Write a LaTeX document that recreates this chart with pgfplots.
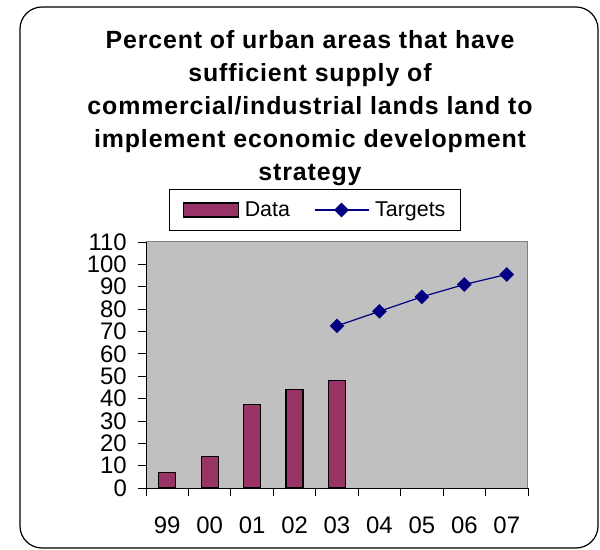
\documentclass[border=0pt]{standalone}
\usepackage{fontspec}
\setmainfont{Liberation Sans}
\usepackage{pgfplots}
\pgfplotsset{compat=1.18}
\definecolor{barcol}{HTML}{993366}
\definecolor{linecol}{HTML}{000080}
\definecolor{plotbg}{HTML}{C0C0C0}
\definecolor{plotframe}{HTML}{808080}
\pgfplotsset{
  barlegend/.style={legend image code/.code={\draw[##1] (0bp,-7bp) rectangle (55bp,7bp);}},
  linelegend/.style={legend image code/.code={\draw[mark repeat=2,mark phase=2,##1] plot coordinates {(0bp,0bp)(27bp,0bp)(54bp,0bp)};}},
}
\begin{document}
\begin{tikzpicture}
\path[use as bounding box] (-146bp,-62bp) rectangle (454bp,488bp);
\draw[line width=1.2bp, rounded corners=22bp] (-126bp,-60bp) rectangle (452bp,481bp);
\begin{axis}[
  at={(0,0)}, anchor=south west,
  scale only axis, width=382bp, height=246bp,
  xmin=-0.5, xmax=8.5, ymin=0, ymax=110,
  axis x line=bottom, axis y line=left,
  axis line style={-, line width=1bp, black},
  axis background/.style={fill=plotbg, draw=plotframe, line width=1bp},
  ytick={0,10,...,110},
  xtick={0,...,8}, xticklabels={99,00,01,02,03,04,05,06,07},
  minor xtick={-0.5,0.5,...,8.5},
  tick align=outside, major tick length=8bp, minor tick length=8bp,
  major x tick style={draw=none},
  tick style={black, line width=0.8bp},
  ticklabel style={font=\fontsize{24}{28}\selectfont},
  xticklabel style={inner sep=0pt, anchor=north},
  xticklabel shift=21bp,
  yticklabel style={inner sep=0pt, anchor=east},
  yticklabel shift=11bp,
  /pgf/number format/assume math mode=true,
  legend columns=2,
  legend style={at={(0.4424,1.1301)}, anchor=center, draw=black, line width=0.8bp,
    fill=white, font=\fontsize{21.5}{26}\selectfont,
    inner xsep=13bp, inner ysep=10bp,
    /tikz/every odd column/.append style={column sep=4bp},
    /tikz/every even column/.append style={column sep=22bp}},
]
\addplot[ybar, bar width=17bp, fill=barcol, draw=black, line width=1.2bp, barlegend]
  coordinates {(0,7) (1,14) (2,37.5) (3,44) (4,48)};
\addlegendentry{Data}
\addplot[color=linecol, line width=1.2bp, mark=square*, mark size=4.6bp,
  mark options={rotate=45, fill=linecol}, linelegend]
  coordinates {(4,72.5) (5,79) (6,85.5) (7,91) (8,95.5)};
\addlegendentry{Targets}
\end{axis}
\begin{scope}[every node/.style={anchor=base, inner sep=0pt, font=\bfseries\fontsize{25}{30}\selectfont\addfontfeatures{LetterSpace=3.5}}]
\node at (164bp,439.7bp) {Percent of urban areas that have};
\node at (164bp,406.7bp) {sufficient supply of};
\node at (164bp,373.7bp) {commercial/industrial lands land to};
\node at (164bp,340.7bp) {implement economic development};
\node at (164bp,307.7bp) {strategy};
\end{scope}
\end{tikzpicture}
\end{document}
